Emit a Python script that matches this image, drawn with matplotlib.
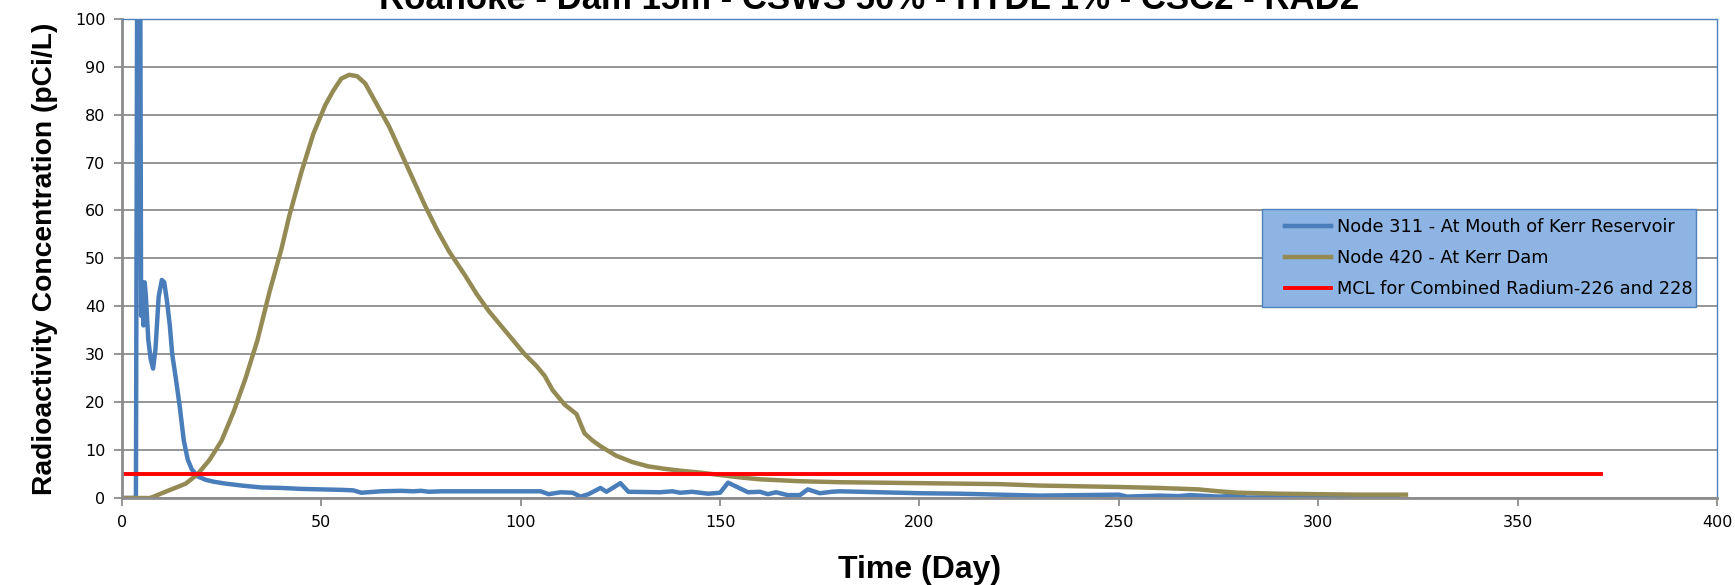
import matplotlib
matplotlib.use("Agg")
import numpy as np
from matplotlib import pyplot as plt
from matplotlib.legend_handler import HandlerLine2D

# Node 311 - At Mouth of Kerr Reservoir
day_311 = [0, 3.0, 3.5, 3.9, 4.2, 4.5, 4.8, 5.1, 5.4, 5.7, 6.0, 6.6, 7.2, 7.8, 8.4,
           9.2, 10.0, 10.6, 11.3, 12.0, 12.6, 13.5, 14.5, 15.5, 16.5, 17.5, 19.0,
           21.0, 23.0, 26.0, 30.0, 35.0, 40.0, 45.0, 50.0, 55.0, 58.0, 60.0, 65.0,
           70.0, 73.0, 75.0, 77.0, 80.0, 90.0, 100.0, 105.0, 107.0, 110.0, 113.0,
           115.0, 117.0, 120.0, 121.5, 125.0, 127.0, 135.0, 138.0, 140.0, 143.0,
           147.0, 150.0, 152.0, 155.0, 157.0, 160.0, 162.0, 164.0, 167.0, 170.0,
           172.0, 175.0, 178.0, 180.0, 190.0, 200.0, 210.0, 220.0, 230.0, 240.0,
           250.0, 252.0, 260.0, 265.0, 268.0, 275.0, 280.0, 282.0, 290.0, 300.0,
           310.0, 320.0]
conc_311 = [0, 0, 0, 140, 60, 140, 38, 45, 36, 45, 42, 33, 29, 27, 31,
            42, 45.5, 45, 41, 36, 30, 25, 19, 12, 8, 6, 4.5,
            3.8, 3.4, 3.0, 2.6, 2.2, 2.1, 1.9, 1.8, 1.7, 1.6, 1.1, 1.4,
            1.5, 1.4, 1.5, 1.3, 1.4, 1.4, 1.4, 1.4, 0.8, 1.2, 1.1,
            0.3, 0.8, 2.1, 1.3, 3.1, 1.3, 1.2, 1.4, 1.1, 1.3,
            0.9, 1.1, 3.2, 2.0, 1.2, 1.3, 0.8, 1.2, 0.6, 0.6,
            1.8, 1.0, 1.3, 1.4, 1.2, 1.0, 0.9, 0.7, 0.5, 0.6,
            0.7, 0.3, 0.5, 0.4, 0.6, 0.3, 0.5, 0.1, 0.2, 0.1,
            0.1, 0.1]

# Node 420 - At Kerr Dam
day_420 = [0, 7, 8, 10, 13, 16, 19, 22, 25, 28, 31, 34, 37, 40, 42, 45, 48, 51,
           53, 55, 57, 59, 61, 64, 67, 70, 73, 76, 79, 82, 86, 89, 92, 95, 98,
           101, 104, 106, 108, 111, 114, 116, 118, 120, 124, 128, 132, 136, 140,
           145, 150, 155, 160, 165, 170, 180, 190, 200, 210, 220, 230, 250, 260,
           270, 275, 280, 285, 290, 300, 310, 322]
conc_420 = [0, 0, 0.3, 1, 2, 3, 5, 8, 12, 18, 25, 33, 43, 52, 59, 68, 76, 82,
            85, 87.5, 88.3, 88, 86.5, 82, 77.5, 72, 66.5, 61, 56, 51.5, 46.5, 42.5,
            39, 36, 33, 30, 27.5, 25.5, 22.5, 19.5, 17.5, 13.5, 12, 10.8, 8.8,
            7.5, 6.6, 6.1, 5.7, 5.3, 4.8, 4.3, 3.9, 3.7, 3.5, 3.3, 3.2, 3.1, 3.0,
            2.9, 2.6, 2.3, 2.1, 1.8, 1.4, 1.1, 1.0, 0.9, 0.8, 0.7, 0.7]

# MCL for combined Ra-226 and Ra-228
mcl_days = [0, 371]
mcl_value = [5, 5]

title = "Roanoke - Dam 15m - CSWS 50% - HYDL 1% - CSC2 - RAD2"
labels = ["Node 311 - At Mouth of Kerr Reservoir",
          "Node 420 - At Kerr Dam",
          "MCL for Combined Radium-226 and 228"]

bold_font = ["Liberation Sans", "DejaVu Sans"]

fig = plt.figure(figsize=(17.35, 5.85), dpi=100)
ax = fig.add_axes([0.0703, 0.1487, 0.9193, 0.8193])

ax.plot(day_311, conc_311, color="#4A7EBB", lw=3.2, label=labels[0],
        solid_joinstyle="round")
ax.plot(day_420, conc_420, color="#948A54", lw=3.2, label=labels[1],
        solid_joinstyle="round")
ax.plot(mcl_days, mcl_value, color="#FF0000", lw=2.8, label=labels[2])

ax.set_xlim(0, 400)
ax.set_ylim(0, 100)
ax.set_xticks(np.arange(0, 401, 50))
ax.set_yticks(np.arange(0, 101, 10))
ax.yaxis.grid(True, color="#8C8C8C", lw=1.3)
ax.set_axisbelow(True)

for s in ["left", "bottom"]:
    ax.spines[s].set_color("#8C8C8C")
    ax.spines[s].set_linewidth(2)
for s in ["top", "right"]:
    ax.spines[s].set_color("#4F81BD")
    ax.spines[s].set_linewidth(1)

ax.tick_params(axis="both", direction="out", length=6, width=1.3,
               color="#8C8C8C", labelsize=11.5, pad=6)
for t in ax.get_xticklabels() + ax.get_yticklabels():
    t.set_family("DejaVu Sans")

ax.set_xlabel("Time (Day)", fontsize=23, fontweight="bold", family=bold_font,
              labelpad=18)
ax.set_ylabel("Radioactivity Concentration (pCi/L)", fontsize=20.3,
              fontweight="bold", family=bold_font, labelpad=12)

# title sits partly above the top edge, as in the original export
fig.text(0.501, 1 - 9 / 585, title, ha="center", va="baseline",
         fontsize=25, fontweight="bold", family=bold_font)

leg = ax.legend(loc="upper left", bbox_to_anchor=(0.715, 0.409, 0.272, 0.194),
                mode="expand", fontsize=12.75, frameon=True, fancybox=False,
                handlelength=3.4, handletextpad=0.3, labelspacing=0.75,
                borderpad=0.5, borderaxespad=0,
                handler_map={matplotlib.lines.Line2D: HandlerLine2D(xpad=0.8)})
leg.get_frame().set_facecolor("#8DB4E2")
leg.get_frame().set_edgecolor("#4F81BD")
leg.get_frame().set_alpha(1)

fig.savefig("out.png", dpi=100)
